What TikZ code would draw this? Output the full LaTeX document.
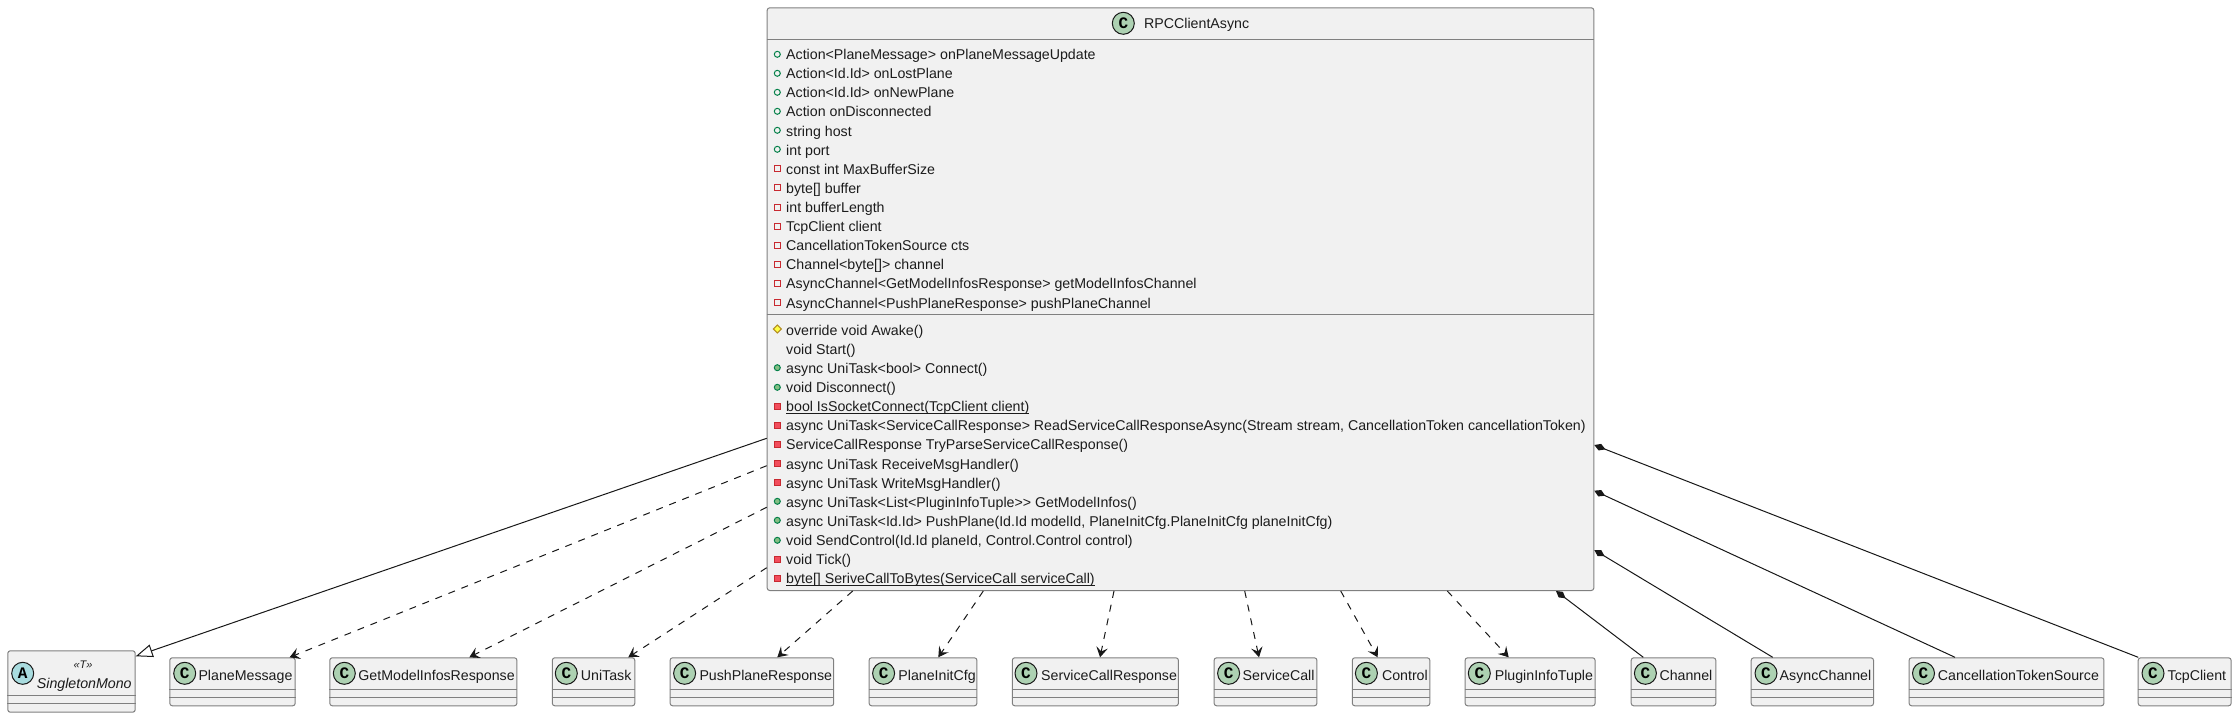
\documentclass[tikz,border=0pt]{standalone}
\usepackage{fontspec}
\setmainfont{Liberation Sans}
\newfontfamily\spotfont{Liberation Mono}
\usetikzlibrary{arrows.meta}
\definecolor{ink}{HTML}{181818}
\definecolor{txt}{HTML}{1C1C1C}
\definecolor{boxline}{HTML}{808080}
\definecolor{boxfill}{HTML}{F1F1F1}
\definecolor{spotC}{HTML}{ADD1B2}
\definecolor{spotA}{HTML}{A9DCDF}
\definecolor{publine}{HTML}{038048}
\definecolor{pubfill}{HTML}{84BE84}
\definecolor{privline}{HTML}{C82930}
\definecolor{privfill}{HTML}{F24D5C}
\definecolor{protline}{HTML}{B38D22}
\definecolor{protfill}{HTML}{FFFF44}
\tikzset{
  classbox/.style={draw=boxline,fill=boxfill,line width=1pt,rounded corners=2.5pt,inner sep=0pt,anchor=north west},
  sepline/.style={draw=boxline,line width=1pt},
  spot/.style={circle,draw=ink,line width=1pt,minimum size=22pt,inner sep=0pt,font=\spotfont\bfseries\fontsize{16pt}{16pt}\selectfont},
  lbl/.style={inner sep=0pt,anchor=base west,text=txt,font=\fontsize{14.2pt}{16pt}\selectfont},
  member/.style={inner sep=0pt,anchor=base west,text=txt,font=\fontsize{14.2pt}{16pt}\selectfont},
  solidrel/.style={draw=ink,line width=1pt},
  deprel/.style={draw=ink,line width=1pt,dash pattern=on 7pt off 7pt,-{Stealth[length=10pt,width=11.5pt,inset=4pt]}},
  comprel/.style={draw=ink,line width=1pt,{Diamond[length=12pt,width=7pt,fill=ink]}-},
  genrel/.style={draw=ink,line width=1pt,-{Triangle[open,length=17pt,width=13pt,fill=white]}},
  pubA/.style={draw=publine,line width=1pt,fill=none},
  privA/.style={draw=privline,line width=1pt,fill=none},
  pubM/.style={draw=publine,line width=1pt,fill=pubfill},
  privM/.style={draw=privline,line width=1pt,fill=privfill},
  protM/.style={draw=protline,line width=1pt,fill=protfill},
}
% #1 name, #2 left, #3 right, #4 spot centre x, #5 text x, #6 label
\newcommand{\plainclass}[6]{%
  \pgfmathsetmacro{\bw}{#3-#2}%
  \node[classbox,minimum width=\bw pt,minimum height=48pt] (#1) at (#2,657.3) {};
  \draw[sepline] ([yshift=-32pt]#1.north west) -- ([yshift=-32pt]#1.north east);
  \draw[sepline] ([yshift=-40pt]#1.north west) -- ([yshift=-40pt]#1.north east);
  \node[spot,fill=spotC] (#1-spot) at (#4,673.3) {C};
  \node[lbl] (#1-name) at (#5,680) {#6};
}
\newcommand{\pubattr}[1]{\draw[pubA] (777.3,#1) circle (3pt);}
\newcommand{\privattr}[1]{\draw[privA] (774.3,#1-3) rectangle (780.3,#1+3);}
\newcommand{\pubmeth}[1]{\draw[pubM] (777.3,#1) circle (3pt);}
\newcommand{\privmeth}[1]{\draw[privM] (774.3,#1-3) rectangle (780.3,#1+3);}
\newcommand{\ul}[1]{\underline{\smash{#1}}}
\begin{document}
\begin{tikzpicture}[x=1pt,y=-1pt]
\useasboundingbox (0,0) rectangle (2235,717);
\fill[white] (0,0) rectangle (2235,717);

% main class
\node[classbox,minimum width=826.6pt,minimum height=582.7pt] (rpc) at (766.7,7.3) {};
\draw[sepline] ([yshift=-32pt]rpc.north west) -- ([yshift=-32pt]rpc.north east);
\draw[sepline] ([yshift=-306.9pt]rpc.north west) -- ([yshift=-306.9pt]rpc.north east);
\node[spot,fill=spotC] (rpc-spot) at (1123.3,23.3) {C};
\node[lbl] (rpc-name) at (1144,28.6) {RPCClientAsync};

% attributes
\foreach \yy in {54.3,73.3,92.3,111.3,130.3,149.3} {\pubattr{\yy}}
\foreach \yy in {168.7,187.7,207,226,245,264.3,283.3,302.3} {\privattr{\yy}}
\node[member] (a1) at (786,59.3) {Action<PlaneMessage> onPlaneMessageUpdate};
\node[member] (a2) at (786,78.3) {Action<Id.Id> onLostPlane};
\node[member] (a3) at (786,97.3) {Action<Id.Id> onNewPlane};
\node[member] (a4) at (786,116.3) {Action onDisconnected};
\node[member] (a5) at (786,136.3) {string host};
\node[member] (a6) at (786,155.3) {int port};
\node[member] (a7) at (786,174.3) {const int MaxBufferSize};
\node[member] (a8) at (786,193.3) {byte[] buffer};
\node[member] (a9) at (786,212.3) {int bufferLength};
\node[member] (a10) at (786,231.3) {TcpClient client};
\node[member] (a11) at (786,250.3) {CancellationTokenSource cts};
\node[member] (a12) at (786,269.3) {Channel<byte[]> channel};
\node[member] (a13) at (786,288.3) {AsyncChannel<GetModelInfosResponse> getModelInfosChannel};
\node[member] (a14) at (786,308.3) {AsyncChannel<PushPlaneResponse> pushPlaneChannel};

% methods
\draw[protM] (777.3,325) -- (781.3,329) -- (777.3,333) -- (773.3,329) -- cycle;
\foreach \yy in {367.7,387.3,501.3,520.3,540.3} {\pubmeth{\yy}}
\foreach \yy in {406.3,425.3,444.3,463.3,482.3,559.3,578.3} {\privmeth{\yy}}
\node[member] (m1) at (786,335.3) {override void Awake()};
\node[member] (m2) at (786,354.3) {void Start()};
\node[member] (m3) at (786,373.3) {async UniTask<bool> Connect()};
\node[member] (m4) at (786,392.3) {void Disconnect()};
\node[member] (m5) at (786,411.3) {\ul{bool IsSocketConnect(TcpClient client)}};
\node[member] (m6) at (786,430.3) {async UniTask<ServiceCallResponse> ReadServiceCallResponseAsync(Stream stream, CancellationToken cancellationToken)};
\node[member] (m7) at (786,449.3) {ServiceCallResponse TryParseServiceCallResponse()};
\node[member] (m8) at (786,469.3) {async UniTask ReceiveMsgHandler()};
\node[member] (m9) at (786,488.3) {async UniTask WriteMsgHandler()};
\node[member] (m10) at (786,507.3) {async UniTask<List<PluginInfoTuple>{}> GetModelInfos()};
\node[member] (m11) at (786,526.3) {async UniTask<Id.Id> PushPlane(Id.Id modelId, PlaneInitCfg.PlaneInitCfg planeInitCfg)};
\node[member] (m12) at (786,545.3) {void SendControl(Id.Id planeId, Control.Control control)};
\node[member] (m13) at (786,564.3) {void Tick()};
\node[member] (m14) at (786,583.6) {\ul{byte[] SeriveCallToBytes(ServiceCall serviceCall)}};

% abstract class
\node[classbox,minimum width=127.4pt,minimum height=61.4pt] (single) at (7.3,650.3) {};
\draw[sepline] ([yshift=-45pt]single.north west) -- ([yshift=-45pt]single.north east);
\draw[sepline] ([yshift=-53pt]single.north west) -- ([yshift=-53pt]single.north east);
\node[spot,fill=spotA] (single-spot) at (22.7,673.3) {A};
\node[inner sep=0pt,text=txt,font=\itshape\fontsize{11pt}{12pt}\selectfont] (single-t) at (83,665) {«T»};
\node[lbl,font=\itshape\fontsize{14.2pt}{16pt}\selectfont] (single-name) at (36.7,688) {SingletonMono};

% plain classes
\plainclass{planemsg}{169.3}{294.7}{184.7}{198.3}{PlaneMessage}
\plainclass{gmir}{329.3}{516.4}{344.3}{358.2}{GetModelInfosResponse}
\plainclass{unitask}{551.8}{634.3}{566.3}{580.7}{UniTask}
\plainclass{pushresp}{669.6}{833.2}{684.6}{699.3}{PushPlaneResponse}
\plainclass{initcfg}{868.6}{976.4}{883.6}{898.2}{PlaneInitCfg}
\plainclass{scr}{1011.8}{1177.9}{1026}{1041}{ServiceCallResponse}
\plainclass{scall}{1213.6}{1316.4}{1228.6}{1242.5}{ServiceCall}
\plainclass{control}{1351.8}{1429.3}{1366.4}{1381.8}{Control}
\plainclass{plugin}{1464.6}{1594.6}{1479.3}{1494.6}{PluginInfoTuple}
\plainclass{channel}{1630.7}{1715.3}{1645.4}{1659.3}{Channel}
\plainclass{achannel}{1750.7}{1873}{1766}{1779.5}{AsyncChannel}
\plainclass{cts}{1908.6}{2103.4}{1923.5}{1937.7}{CancellationTokenSource}
\plainclass{tcp}{2137.7}{2230.6}{2153}{2167.5}{TcpClient}

% connectors
\draw[genrel] ([yshift=-431pt]rpc.north west) -- ([yshift=-6pt]single.north east);
\draw[deprel] ([yshift=-458.4pt]rpc.north west) -- ([xshift=120.3pt]planemsg.north west);
\draw[deprel] ([yshift=-500pt]rpc.north west) -- ([xshift=140pt]gmir.north west);
\draw[deprel] ([yshift=-560.4pt]rpc.north west) -- ([xshift=76.5pt]unitask.north west);
\draw[deprel] ([xshift=86pt]rpc.south west) -- ([xshift=107.7pt]pushresp.north west);
\draw[deprel] ([xshift=216.6pt]rpc.south west) -- ([xshift=69.7pt]initcfg.north west);
\draw[deprel] ([xshift=347.3pt]rpc.south west) -- ([xshift=88.2pt]scr.north west);
\draw[deprel] ([xshift=478pt]rpc.south west) -- ([xshift=45.4pt]scall.north west);
\draw[deprel] ([xshift=574pt]rpc.south west) -- ([xshift=25.9pt]control.north west);
\draw[deprel] ([xshift=680.6pt]rpc.south west) -- ([xshift=44.1pt]plugin.north west);
\draw[comprel] ([xshift=789.3pt]rpc.south west) -- ([xshift=12.6pt]channel.north west);
\draw[comprel] ([yshift=-542.7pt]rpc.north east) -- ([xshift=22pt]achannel.north west);
\draw[comprel] ([yshift=-483.4pt]rpc.north east) -- ([xshift=46.4pt]cts.north west);
\draw[comprel] ([yshift=-437.7pt]rpc.north east) -- ([xshift=0.5pt]tcp.north west);
\end{tikzpicture}
\end{document}
